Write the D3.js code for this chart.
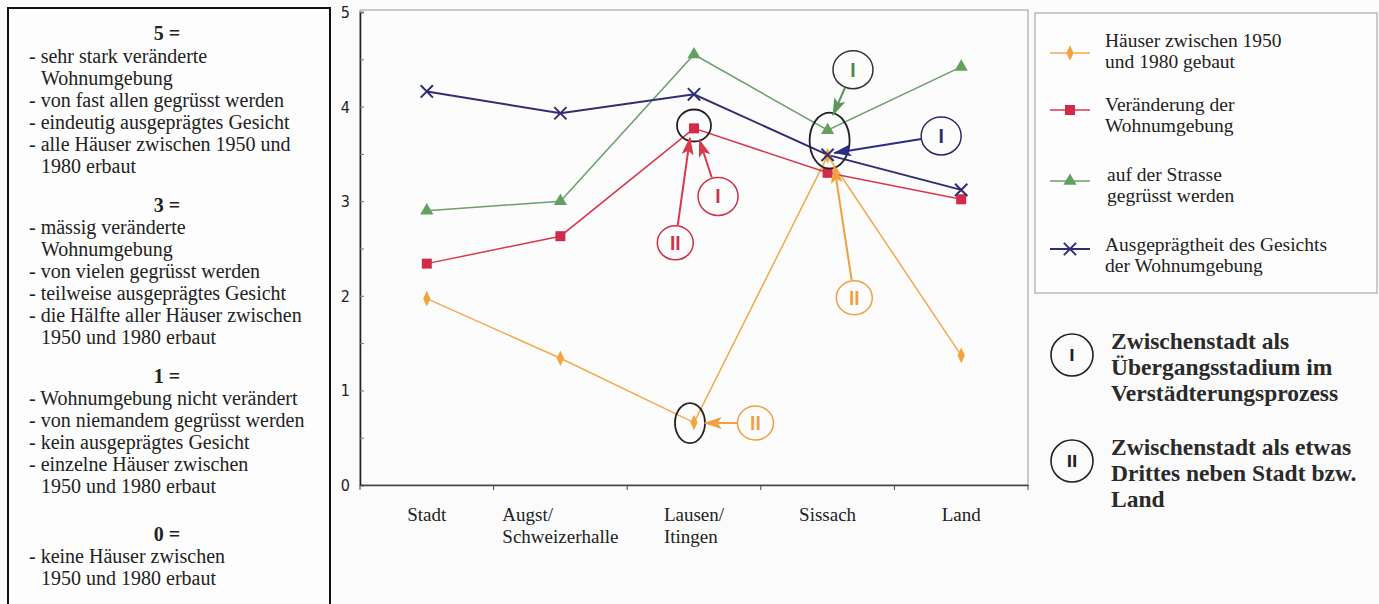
<!DOCTYPE html>
<html>
<head>
<meta charset="utf-8">
<script src="https://cdn.jsdelivr.net/npm/d3@7"></script>
<style>
  body { margin: 0; background: #fbfbfb; }
  svg { display: block; }
</style>
</head>
<body>
<script>
// data
const categories = [["Stadt"], ["Augst/", "Schweizerhalle"], ["Lausen/", "Itingen"], ["Sissach"], ["Land"]];
const haeuser = [1.97, 1.34, 0.66, 3.48, 1.37];
const veraenderung = [2.34, 2.63, 3.77, 3.30, 3.02];
const gegruesst = [2.90, 3.00, 4.55, 3.75, 4.42];
const gesicht = [4.16, 3.93, 4.13, 3.49, 3.12];
const y_ticks = [0, 1, 2, 3, 4, 5];

const series_names = [
    ["Häuser zwischen 1950", "und 1980 gebaut"],
    ["Veränderung  der", "Wohnumgebung"],
    ["auf der Strasse", "gegrüsst werden"],
    ["Ausgeprägtheit des Gesichts", "der Wohnumgebung"]
];

const scale_text = [
    {head: "5 =", lines: ["- sehr stark veränderte", "  Wohnumgebung", "- von fast allen gegrüsst werden", "- eindeutig ausgeprägtes Gesicht", "- alle Häuser zwischen 1950 und", "  1980 erbaut"]},
    {head: "3 =", lines: ["- mässig veränderte", "  Wohnumgebung", "- von vielen gegrüsst werden", "- teilweise ausgeprägtes Gesicht", "- die Hälfte aller Häuser zwischen", "  1950 und 1980 erbaut"]},
    {head: "1 =", lines: ["- Wohnumgebung nicht verändert", "- von niemandem gegrüsst werden", "- kein ausgeprägtes Gesicht", "- einzelne Häuser zwischen", "  1950 und 1980 erbaut"]},
    {head: "0 =", lines: ["- keine Häuser zwischen", "  1950 und 1980 erbaut"]}
];

const hypotheses = [
    {label: "I", lines: ["Zwischenstadt als", "Übergangsstadium im", "Verstädterungsprozess"]},
    {label: "II", lines: ["Zwischenstadt als etwas", "Drittes neben Stadt bzw.", "Land"]}
];

// annotation circles and arrows (index on category axis, value on y axis)
const rings = [
    {i: 2.0, v: 3.80, rx: 17, ry: 16},
    {i: 3.015, v: 3.64, rx: 20, ry: 28},
    {i: 1.97, v: 0.655, rx: 15, ry: 20}
];
const callouts = [
    {label: "I", i: 3.19, v: 4.39, stroke: "#333", text: "#4f844f", arrow: "#5a955a", ti: 3.04, tv: 3.91},
    {label: "I", i: 3.85, v: 3.69, stroke: "#2b2b66", text: "#2b2b66", arrow: "#2b2b8a", ti: 3.05, tv: 3.51},
    {label: "I", i: 2.18, v: 3.05, stroke: "#d03048", text: "#d03048", arrow: "#d83a4c", ti: 2.04, tv: 3.65},
    {label: "II", i: 1.86, v: 2.56, stroke: "#d03048", text: "#d03048", arrow: "#d83a4c", ti: 1.97, tv: 3.67},
    {label: "II", i: 3.20, v: 1.98, stroke: "#f0a040", text: "#f0a040", arrow: "#f0a040", ti: 3.05, tv: 3.37},
    {label: "II", i: 2.46, v: 0.655, stroke: "#f0a040", text: "#f0a040", arrow: "#f0a040", ti: 2.08, tv: 0.655}
];

const colors = ["#f2a43a", "#d32a4a", "#62a062", "#2e2e72"];
const line_colors = ["#f4a94a", "#d8384e", "#6c9e6c", "#2e2e72"];
const all_series = [haeuser, veraenderung, gegruesst, gesicht];

const SERIF = "Liberation Serif, Times New Roman, serif";
const SANS = "DejaVu Sans Condensed, DejaVu Sans, sans-serif";

const W = 1379, H = 604;
const svg = d3.select("body").append("svg").attr("width", W).attr("height", H);

const plot = {left: 360, right: 1028, top: 10, bottom: 485};

const x_band = d3.scaleBand().domain(d3.range(categories.length)).range([plot.left, plot.right]);
const x = d3.scaleLinear().domain([0, 4]).range([plot.left + x_band.bandwidth() / 2, plot.right - x_band.bandwidth() / 2]);
const y = d3.scaleLinear().domain([0, 5]).range([plot.bottom, 12]);

// left description box
svg.append("rect")
    .attr("x", 8).attr("y", 8).attr("width", 322).attr("height", 610)
    .attr("fill", "#fdfdfd").attr("stroke", "#111").attr("stroke-width", 2);

const box_text = svg.append("g").attr("font-family", SERIF).attr("font-size", 20).attr("fill", "#222");
const block_heads = [40, 212, 383, 541];
scale_text.forEach((block, b) => {
    box_text.append("text").attr("x", 167).attr("y", block_heads[b]).attr("text-anchor", "middle")
        .attr("font-weight", "bold").text(block.head);
    block.lines.forEach((ln, k) => {
        const indent = ln.startsWith("  ");
        box_text.append("text").attr("x", indent ? 41 : 29)
            .attr("y", block_heads[b] + 22 * (k + 1) + (b === 0 ? 1 : 0)).text(ln.trim());
    });
});

// plot frame
svg.append("rect")
    .attr("x", plot.left).attr("y", plot.top).attr("width", plot.right - plot.left).attr("height", plot.bottom - plot.top)
    .attr("fill", "#fcfcfc").attr("stroke", "#9a9a9a").attr("stroke-width", 1);

// y axis
const y_axis = svg.append("g").attr("transform", `translate(${plot.left},0)`)
    .call(d3.axisRight(y).tickValues(d3.range(0, 5.01, 0.5)).tickSize(4).tickFormat(""));
y_axis.select(".domain").attr("stroke", "#222").attr("stroke-width", 1.6);
y_axis.selectAll(".tick line").attr("stroke", "#777");
svg.append("g").selectAll("text").data(y_ticks).join("text")
    .attr("x", plot.left - 10).attr("y", d => y(d) + 6).attr("text-anchor", "end")
    .attr("font-family", SANS).attr("font-size", 16).attr("fill", "#222")
    .text(d => d);

// x axis
const x_axis = svg.append("g").attr("transform", `translate(0,${plot.bottom})`)
    .call(d3.axisBottom(x_band).tickValues([]).tickSizeOuter(0));
x_axis.select(".domain").attr("stroke", "#444").attr("stroke-width", 1.4);
svg.append("g").selectAll("line").data(d3.range(categories.length + 1)).join("line")
    .attr("x1", d => plot.left + d * x_band.step()).attr("x2", d => plot.left + d * x_band.step())
    .attr("y1", plot.bottom).attr("y2", plot.bottom + 5).attr("stroke", "#444");

const x_labels = svg.append("g").attr("font-family", SERIF).attr("font-size", 19).attr("fill", "#222");
categories.forEach((lines, i) => {
    const g = x_labels.append("g");
    const texts = lines.map((ln, k) => g.append("text").attr("y", 521 + k * 22).text(ln));
    const widest = d3.max(texts, t => t.node().getComputedTextLength());
    texts.forEach(t => t.attr("x", x(i) - widest / 2));
});

// lines
const line_gen = d3.line().x((d, i) => x(i)).y(d => y(d));
const lines_g = svg.append("g");
all_series.forEach((s, k) => {
    lines_g.append("path").datum(s).attr("d", line_gen)
        .attr("fill", "none").attr("stroke", line_colors[k]).attr("stroke-width", k === 3 ? 2 : 1.5);
});

// markers
const draw_marker = function (g, k, cx, cy) {
    if (k === 0) {
        g.append("path").attr("d", d3.symbol(d3.symbolDiamond, 70)())
            .attr("transform", `translate(${cx},${cy}) scale(0.8,1.0)`).attr("fill", colors[0]);
    } else if (k === 1) {
        g.append("rect").attr("x", cx - 5).attr("y", cy - 5).attr("width", 10).attr("height", 10).attr("fill", colors[1]);
    } else if (k === 2) {
        g.append("path").attr("d", d3.symbol(d3.symbolTriangle, 75)())
            .attr("transform", `translate(${cx},${cy})`).attr("fill", colors[2]);
    } else {
        g.append("path").attr("d", d3.symbol(d3.symbolTimes, 100)())
            .attr("transform", `translate(${cx},${cy})`).attr("fill", "none").attr("stroke", colors[3]).attr("stroke-width", 2);
    }
};
const marks_g = svg.append("g");
all_series.forEach((s, k) => s.forEach((v, i) => draw_marker(marks_g, k, x(i), y(v))));

// arrow heads
const defs = svg.append("defs");
callouts.forEach((c, n) => {
    defs.append("marker").attr("id", "arr" + n)
        .attr("viewBox", "0 0 18 12").attr("refX", 17).attr("refY", 6)
        .attr("markerWidth", 18).attr("markerHeight", 12).attr("markerUnits", "userSpaceOnUse")
        .attr("orient", "auto")
        .append("path").attr("d", "M0,0 L18,6 L0,12 L4,6 z").attr("fill", c.arrow);
});

const ann = svg.append("g");
rings.forEach(r => {
    ann.append("ellipse").attr("cx", x(r.i)).attr("cy", y(r.v)).attr("rx", r.rx).attr("ry", r.ry)
        .attr("fill", "none").attr("stroke", "#222").attr("stroke-width", 1.8);
});
callouts.forEach((c, n) => {
    const cx = x(c.i), cy = y(c.v), tx = x(c.ti), ty = y(c.tv);
    const ang = Math.atan2(ty - cy, tx - cx);
    const r = c.label === "I" ? 20 : 18;
    ann.append("line")
        .attr("x1", cx + Math.cos(ang) * r).attr("y1", cy + Math.sin(ang) * r)
        .attr("x2", tx).attr("y2", ty)
        .attr("stroke", c.arrow).attr("stroke-width", 2).attr("marker-end", `url(#arr${n})`);
    ann.append("ellipse").attr("cx", cx).attr("cy", cy).attr("rx", r).attr("ry", r - 1)
        .attr("fill", "#fcfcfc").attr("stroke", c.stroke).attr("stroke-width", 1.5);
    ann.append("text").attr("x", cx).attr("y", cy + 7).attr("text-anchor", "middle")
        .attr("font-family", SANS).attr("font-size", 20).attr("font-weight", "bold")
        .attr("transform", `translate(${cx},0) scale(0.8,1) translate(${-cx},0)`)
        .attr("fill", c.text).text(c.label);
});

// legend
svg.append("rect").attr("x", 1035).attr("y", 13).attr("width", 342).attr("height", 280)
    .attr("fill", "#fdfdfd").attr("stroke", "#999").attr("stroke-width", 1);
const legend_y = [53, 110, 181, 249];
const legend_text_y = [47, 111, 181, 251];
const legend = svg.append("g").attr("font-family", SERIF).attr("font-size", 19.5).attr("fill", "#222");
series_names.forEach((names, k) => {
    legend.append("line").attr("x1", 1050).attr("x2", 1090).attr("y1", legend_y[k]).attr("y2", legend_y[k])
        .attr("stroke", line_colors[k]).attr("stroke-width", k === 3 ? 2 : 1.5);
    draw_marker(legend, k, 1070, legend_y[k]);
    names.forEach((nm, j) => {
        legend.append("text").attr("x", k === 2 ? 1107 : 1105).attr("y", legend_text_y[k] + j * 21).text(nm);
    });
});

// hypotheses legend
const hyp = svg.append("g");
const hyp_y = [355, 461];
hypotheses.forEach((h, k) => {
    hyp.append("circle").attr("cx", 1072).attr("cy", hyp_y[k]).attr("r", 21)
        .attr("fill", "none").attr("stroke", "#222").attr("stroke-width", 1.6);
    hyp.append("text").attr("x", 1072).attr("y", hyp_y[k] + 6).attr("text-anchor", "middle")
        .attr("font-family", SANS).attr("font-size", 16).attr("font-weight", "bold")
        .attr("fill", "#222").text(h.label);
    h.lines.forEach((ln, j) => {
        hyp.append("text").attr("x", 1111).attr("y", hyp_y[k] - 6 + j * 26)
            .attr("font-family", SERIF).attr("font-size", 23.5)
            .attr("font-weight", "bold").attr("fill", "#2a2a2a").text(ln);
    });
});
</script>
</body>
</html>
